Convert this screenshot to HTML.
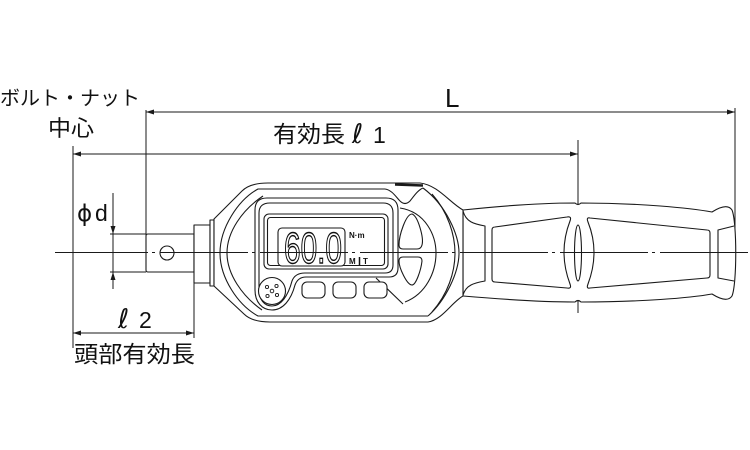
<!DOCTYPE html>
<html>
<head>
<meta charset="utf-8">
<style>
  html,body{margin:0;padding:0;background:#fff;}
  svg{display:block;}
  text{font-family:"Liberation Sans","Noto Sans CJK JP",sans-serif;fill:#111;}
  .dj{font-family:"DejaVu Sans",sans-serif;}
</style>
</head>
<body>
<svg width="750" height="450" viewBox="0 0 750 450" xmlns="http://www.w3.org/2000/svg">
<rect width="750" height="450" fill="#fff"/>

<!-- dimension & extension lines -->
<g fill="none" stroke="#1a1a1a" stroke-width="1">
  <line x1="146" y1="112" x2="735" y2="112"/>
  <line x1="73" y1="154" x2="578" y2="154"/>
  <line x1="73" y1="333" x2="194" y2="333"/>
  <line x1="146" y1="110" x2="146" y2="236"/>
  <line x1="73" y1="146" x2="73" y2="348"/>
  <line x1="578" y1="140" x2="578" y2="313"/>
  <line x1="735" y1="108" x2="735" y2="250"/>
  <line x1="194" y1="283" x2="194" y2="338"/>
  <line x1="113" y1="193" x2="113" y2="289"/>
  <line x1="110" y1="234" x2="146" y2="234"/>
  <line x1="110" y1="272" x2="146" y2="272"/>
</g>
<!-- arrowheads -->
<g fill="#1a1a1a" stroke="none">
  <polygon points="146,112 154,109.5 154,114.5"/>
  <polygon points="735,112 727,109.5 727,114.5"/>
  <polygon points="73,154 81,151.5 81,156.5"/>
  <polygon points="578,154 570,151.5 570,156.5"/>
  <polygon points="73,333 81,330.5 81,335.5"/>
  <polygon points="194,333 186,330.5 186,335.5"/>
  <polygon points="113,234 110.5,226 115.5,226"/>
  <polygon points="113,272 110.5,280 115.5,280"/>
</g>

<!-- wrench drawing -->
<g fill="#fff" stroke="#1a1a1a" stroke-width="1.1" stroke-linejoin="round">
  <path d="M146,236 Q146,234 148,234 L194,234 L194,272 L148,272 Q146,272 146,270 Z"/>
  <circle cx="167" cy="253" r="7"/>
  <rect x="194" y="225" width="16" height="58"/>
  <rect x="210" y="220" width="4" height="66"/>
  <path d="M463,210 C510,205 550,203 575,203 Q578,206 581,203 C640,203 690,208 712,212 C720,207 728,204 732,210 C737,222 737,284 732,296 C728,302 720,299 712,294 C690,298 640,302 581,302 Q578,299 575,302 C550,302 510,300 463,296 Z"/>
  <path d="M214,219 L242,191 Q250,183 268,183 L420,183 C438,185 450,203 463,210 L463,296 C452,302 442,320 428,322 L270,322 Q252,322 244,314 L214,286 Z"/>
</g>

<g fill="none" stroke="#1a1a1a" stroke-width="1.1" stroke-linejoin="round">
  <path d="M463,211 C466,222 474,224 485,226 L485,281 C474,283 466,285 463,295"/>
  <path d="M495,227 L567,217 Q572,216 570,221 Q558,252 570,284 Q572,289 567,288 L495,282 Q492,282 492,279 L492,230 Q492,227 495,227 Z"/>
  <ellipse cx="578" cy="253" rx="3.5" ry="28"/>
  <path d="M590,218 Q586,217 588,222 Q600,252 588,284 Q586,289 590,288 L707,278 Q710,278 710,275 L710,233 Q710,230 707,230 Z"/>
  <path d="M734,226 L718,230 L718,278 L734,281"/>
  <path d="M385,189 L258,189 C238,200 220,228 220,253 C220,278 238,305 258,316 L428,316"/>
  <path d="M263,196 C242,210 227,232 227,253 C227,274 242,296 262,310"/>
  <path d="M423,188 C446,205 459,235 459,253 C459,272 446,300 428,316"/>
  <path d="M432,194 C448,212 455,235 455,253 C455,272 448,294 432,312"/>
  <path d="M385,189 C392,190 396,197 400,201 Q405,206 410,201 C414,196 418,190 423,188"/>
  <path d="M395,184.5 L423,185.5" stroke-width="2.5"/>
  <path d="M400,208 C426,212 436,236 436,253 C436,272 426,294 405,302"/>
  <path d="M376,278 L403,304"/>
</g>

<g fill="#fff" stroke="#1a1a1a" stroke-width="1.1" stroke-linejoin="round">
  <path d="M267,198 L386,198 Q398,198 398,210 L398,268 Q398,277 389,277 L306,277 Q298,277 295,285 C291,300 283,310 272,310 C262,310 255,302 255,290 L255,210 Q255,198 267,198 Z"/>
  <path d="M270,203 L383,203 Q393,203 393,213 L393,265 Q393,273 385,273 L305,273 Q295,273 292,281 C288,296 281,306 272,306 C264,306 259,299 259,290 L259,213 Q259,203 270,203 Z"/>
  <rect x="264" y="214" width="124" height="55" rx="5"/>
  <rect x="267.5" y="217.5" width="117" height="48" rx="3"/>
  <rect x="278" y="228" width="67" height="38" rx="4"/>
  <circle cx="272" cy="291" r="13.5"/>
  <rect x="302" y="282" width="23" height="16" rx="5"/>
  <rect x="333" y="282" width="23" height="16" rx="5"/>
  <rect x="364" y="282" width="23" height="16" rx="5"/>
  <path d="M412,214 C418,216 424,238 422,245 Q421,249 417,249 L403,249 Q399,249 399,245 C399,235 406,214 412,214 Z"/>
  <path d="M403,257 L418,257 Q422,257 422,261 C421,270 416,285 412,285 C407,285 399,268 399,261 Q399,257 403,257 Z"/>
</g>
<g fill="none" stroke="#1a1a1a" stroke-width="0.9">
  <circle cx="272" cy="291" r="1.8"/>
  <circle cx="267" cy="287" r="1.6"/>
  <circle cx="276.5" cy="286" r="1.6"/>
  <circle cx="267.5" cy="296" r="1.6"/>
  <circle cx="277" cy="295" r="1.6"/>
</g>

<text x="284" y="263" font-size="44" textLength="58" lengthAdjust="spacingAndGlyphs" style="fill:#fff;stroke:#111;stroke-width:1.4">60.0</text>
<text x="349" y="238" font-size="8" font-weight="bold">N·m</text>
<text x="349" y="264" font-size="8" font-weight="bold">M</text>
<line x1="359.5" y1="257" x2="359.5" y2="265" stroke="#111" stroke-width="1.5"/>
<text x="363" y="264" font-size="8" font-weight="bold">T</text>

<g stroke="#1a1a1a" stroke-width="1">
  <line x1="55" y1="252.5" x2="60" y2="252.5"/>
  <line x1="60" y1="252.5" x2="748" y2="252.5" stroke-dasharray="88 4 3 5"/>
</g>

<text x="0" y="105" font-size="20" textLength="140" lengthAdjust="spacingAndGlyphs">ボルト・ナット</text>
<text x="48" y="136" font-size="22" textLength="46" lengthAdjust="spacingAndGlyphs">中心</text>
<text x="445" y="107" font-size="26">L</text>
<text x="273" y="142" font-size="23" textLength="72" lengthAdjust="spacingAndGlyphs">有効長</text>
<text class="dj" x="352" y="143" font-size="27" font-style="italic">ℓ</text>
<text x="373" y="143" font-size="23">1</text>
<text class="dj" x="77" y="221" font-size="23">ϕ</text>
<text x="95" y="221" font-size="23">d</text>
<text class="dj" x="118" y="328" font-size="27" font-style="italic">ℓ</text>
<text x="139" y="328" font-size="23">2</text>
<text x="74" y="362" font-size="23" textLength="121" lengthAdjust="spacingAndGlyphs">頭部有効長</text>
</svg>
</body>
</html>
